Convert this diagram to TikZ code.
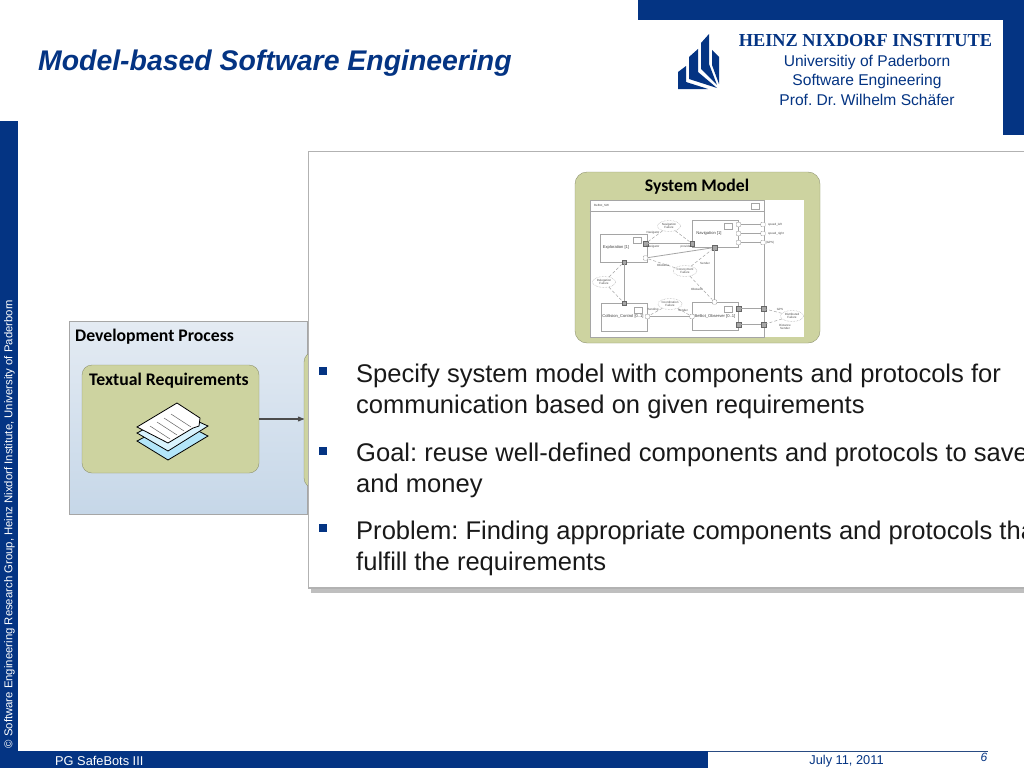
\documentclass[tikz,border=0pt]{standalone}
\usepackage{fontspec}
\setmainfont{Liberation Sans}
\newfontfamily\carlitofont{Carlito}
\newfontfamily\seriffont{Liberation Serif}
\usetikzlibrary{arrows,shapes,shapes.geometric}
\definecolor{upbblue}{RGB}{4,52,131}
\definecolor{boxgreen}{RGB}{205,211,160}
\definecolor{modelline}{RGB}{165,165,165}
\definecolor{devtop}{RGB}{228,235,243}
\definecolor{devbottom}{RGB}{198,215,232}
\tikzset{
  band/.style={fill=upbblue,draw=none},
  devbox/.style={rectangle,draw=black!35,top color=devtop,bottom color=devbottom,minimum width=238pt,minimum height=193pt,inner sep=0pt},
  greenbox/.style={rectangle,rounded corners=10pt,draw=black!30!boxgreen,fill=boxgreen,inner sep=0pt},
  heading/.style={font=\carlitofont\bfseries\fontsize{17.7}{20}\selectfont,inner sep=0pt,text=black},
  bodytext/.style={font=\fontsize{25.55}{30}\selectfont,anchor=west,inner sep=0pt,text=black!90},
  bullet/.style={rectangle,fill=upbblue,minimum size=8pt,inner sep=0pt},
  logotext/.style={font=\fontsize{15.6}{17}\selectfont,text=upbblue,inner sep=0pt},
  foot/.style={font=\fontsize{12.8}{14}\selectfont,inner sep=0pt},
  comp/.style={rectangle,draw=modelline,fill=white,line width=0.8pt,inner sep=0pt},
  fail/.style={ellipse,draw=modelline,densely dotted,fill=white,line width=0.5pt,minimum width=23pt,minimum height=11pt,inner sep=0pt,font=\fontsize{3}{3.4}\selectfont,align=center,text=black!70},
  port/.style={rectangle,draw=black!60,fill=black!35,minimum size=4.5pt,inner sep=0pt},
  outport/.style={rectangle,rounded corners=1pt,draw=modelline,fill=white,minimum size=4.5pt,inner sep=0pt},
  tiny/.style={font=\fontsize{3}{3.4}\selectfont,inner sep=0pt,text=black!70},
  small/.style={font=\fontsize{4.1}{5}\selectfont,inner sep=0pt,text=black!75},
  icon/.style={rectangle,draw=modelline,fill=white,line width=0.5pt,minimum width=8pt,minimum height=5.5pt,inner sep=0pt},
  link/.style={draw=modelline,line width=0.8pt},
  role/.style={draw=modelline,densely dashed,line width=0.5pt}
}
\begin{document}
\frenchspacing
\begin{tikzpicture}[x=1pt,y=-1pt]
\useasboundingbox (0,0) rectangle (1024,768);
\fill[white] (0,0) rectangle (1024,768);

\fill[band] (638,0) rectangle (1024,20);
\fill[band] (1003,0) rectangle (1024,135);
\fill[band] (0,121) rectangle (18,768);
\fill[band] (0,751) rectangle (708,768);
\draw[upbblue!70!gray,line width=1pt] (708,751) -- (988,751);

\node[font=\bfseries\itshape\fontsize{28.4}{31}\selectfont,text=upbblue,anchor=west,inner sep=0pt] (title) at (38,63.5) {Model-based Software Engineering};

\fill[upbblue] (678,89) -- (678,72) -- (686,66) -- (686,82) -- (708,89) -- cycle;
\fill[upbblue] (689,57) -- (698,49) -- (698,72) -- (717,88) -- (689,79) -- cycle;
\fill[upbblue] (701,43) -- (709,34) -- (709,64) -- (717,85) -- (701,69) -- cycle;
\fill[upbblue] (712,50) -- (719,57) -- (719,84) -- (712,65) -- cycle;

\node[font=\seriffont\bfseries\fontsize{18.3}{20}\selectfont,text=upbblue,inner sep=0pt] (hni) at (865.5,41) {HEINZ NIXDORF INSTITUTE};
\node[logotext] (upb) at (867,62) {Universitiy of Paderborn};
\node[logotext] (swe) at (867,81) {Software Engineering};
\node[logotext] (prof) at (867,99.5) {Prof. Dr. Wilhelm Schäfer};

\node[rotate=90,font=\fontsize{11.35}{13}\selectfont,text=white,inner sep=0pt] (copyright) at (9.5,524) {© Software Engineering Research Group, Heinz Nixdorf Institute, University of Paderborn};

\node[devbox] (devprocess) at (188,417.5) {};
\node[heading,anchor=west] (devlabel) at (75,337) {Development Process};
\node[greenbox,minimum width=177pt,minimum height=108pt] (textreq) at (170.5,419) {};
\node[heading] (textlabel) at (169,381) {Textual Requirements};
\node[greenbox,minimum width=40pt,minimum height=136pt] (sysback) at (324,420) {};
\path[draw=black!70,line width=1.1pt,-stealth'] (textreq.east) -- (textreq.east -| sysback.west);

\draw[black,fill=cyan!30!white,line width=0.8pt] (137,441) -- (177,420) -- (208,436) -- (168,460) -- cycle;
\draw[black,fill=cyan!15!white,line width=0.8pt] (137,433) -- (177,412) -- (208,426) -- (168,451) -- cycle;
\draw[black,fill=white,line width=0.8pt] (137,427) -- (177,403) -- (200,418) -- (199,426) -- (193,428) -- (168,443) -- cycle;
\draw[black!60,line width=0.5pt] (150,426) -- (170,439) (157,422) -- (177,435) (164,418) -- (184,431) (171,414) -- (191,427);

\fill[black!25] (311,154) rectangle (1030,593);
\draw[black!30,line width=1.6pt,fill=white] (308.5,151.5) rectangle (1030,588);

\node[greenbox,rounded corners=12pt,minimum width=245pt,minimum height=171pt] (sysmodel) at (697.5,257.5) {};
\node[heading] (sysmodellabel) at (697,187) {System Model};
\node[rectangle,fill=white,minimum width=214pt,minimum height=137pt,inner sep=0pt] (modelpaper) at (696.5,268.5) {};
\node[comp,minimum width=174pt,minimum height=137pt] (frame) at (677,268.5) {};
\draw[modelline,line width=0.8pt] (frame.west |- 0,211) -- (frame.east |- 0,211);
\node[tiny,anchor=west] (swname) at (594,206) {BeBot\_SW};
\node[icon] (swicon) at (755,206) {};

\node[comp,minimum width=47pt,minimum height=28pt] (explo) at (623.5,248) {};
\node[comp,minimum width=46pt,minimum height=27pt] (navi) at (715,233.5) {};
\node[comp,minimum width=46pt,minimum height=28pt] (colli) at (624,317) {};
\node[comp,minimum width=46pt,minimum height=28pt] (obsv) at (715,316) {};
\node[small] (explolabel) at (616,247.6) {Exploration [1]};
\node[small] (navilabel) at (709,233) {Navigation [1]};
\node[small] (collilabel) at (623,316.7) {Collision\_Control [0..1]};
\node[small] (obsvlabel) at (715,316.7) {BeBot\_Observer [0..1]};
\node[icon] (exploicon) at (637,240) {};
\node[icon] (naviicon) at (728,226) {};
\node[icon] (colliicon) at (638,310) {};
\node[icon] (obsvicon) at (728,309) {};

\node[port] (pa) at (645.5,243.5) {};
\node[port] (pb) at (692,243.5) {};
\node[outport] (pc) at (645.5,258) {};
\node[port] (pd) at (714.5,247.5) {};
\node[port] (pe) at (624,262) {};
\node[port] (pf) at (624,303) {};
\node[outport] (pg) at (714.5,302) {};
\node[outport] (ph) at (647.5,316.5) {};
\node[outport] (pi) at (692,316.5) {};
\node[port] (pj) at (738.5,308.5) {};
\node[port] (pk) at (738.5,324.5) {};
\node[port] (pl) at (763.5,308.5) {};
\node[port] (pm) at (763.5,324.5) {};
\node[outport] (pn) at (738.5,224.5) {};
\node[outport] (po) at (738.5,233.5) {};
\node[outport] (pp) at (738.5,242.5) {};
\node[outport] (pq) at (763,224.5) {};
\node[outport] (pr) at (763,233.5) {};
\node[outport] (ps) at (763,242.5) {};

\path[link] (pa) -- (pb);
\path[link] (pc) -- (pd);
\path[link] (pe) -- (pf);
\path[link] (pd) -- (pg);
\path[link] (ph) -- (pi);
\path[link] (pj) -- (pl);
\path[link] (pk) -- (pm);
\path[link] (pn) -- (pq);
\path[link] (po) -- (pr);
\path[link] (pp) -- (ps);

\node[fail] (navfail) at (669,226) {Navigation\\Failure};
\node[fail] (convfail) at (685,271) {Convoyment\\Failure};
\node[fail] (delfail) at (604,282) {Delegation\\Failure};
\node[fail] (coordfail) at (670,304) {Coordination\\Failure};
\node[fail] (distfail) at (792,316) {Distributed\\Failure};

\path[role] (navfail) -- (pa);
\path[role] (navfail) -- (pb);
\path[role] (convfail) -- (pc);
\path[role] (convfail) -- (pd);
\path[role] (convfail) -- (pg);
\path[role] (delfail) -- (pe);
\path[role] (delfail) -- (pf);
\path[role] (coordfail) -- (ph);
\path[role] (coordfail) -- (pi);
\path[role] (distfail) -- (pl);
\path[role] (distfail) -- (pm);

\node[tiny] (speedl) at (775,224.5) {speed\_left};
\node[tiny] (speedr) at (776,233.5) {speed\_right};
\node[tiny] (gpsout) at (770,242.5) {(GPS)};
\node[tiny] (gpsrole) at (780,309) {GPS};
\node[tiny,align=center] (distsender) at (785,327) {Distance\\Sender};
\node[tiny] (rolea) at (653,233) {Navigator};
\node[tiny] (roleb) at (653,247) {Navigator};
\node[tiny] (rolec) at (686,247) {provider};
\node[tiny] (roled) at (663,265) {Obstacle};
\node[tiny] (rolee) at (705,263) {Sender};
\node[tiny] (rolef) at (697,289) {Obstacle};
\node[tiny] (roleg) at (653,310) {Sending};
\node[tiny] (roleh) at (683,310) {Sender};

\node[bullet] (ba) at (323,371) {};
\node[bodytext] (ta) at (356,376) {Specify system model with components and protocols for};
\node[bodytext] (tb) at (356,407) {communication based on given requirements};
\node[bullet] (bb) at (323,451) {};
\node[bodytext] (tc) at (356,455) {Goal: reuse well-defined components and protocols to save};
\node[bodytext] (td) at (356,486) {and money};
\node[bullet] (bc) at (323,528) {};
\node[bodytext] (te) at (356,533) {Problem: Finding appropriate components and protocols that};
\node[bodytext] (tf) at (356,564) {fulfill the requirements};

\node[foot,text=white,anchor=west] (pgname) at (55,761) {PG SafeBots III};
\node[foot,text=upbblue] (datelabel) at (846.5,761) {July 11, 2011};
\node[foot,text=upbblue,font=\itshape\fontsize{12}{14}\selectfont] (pagenum) at (984,757) {6};
\end{tikzpicture}
\end{document}
